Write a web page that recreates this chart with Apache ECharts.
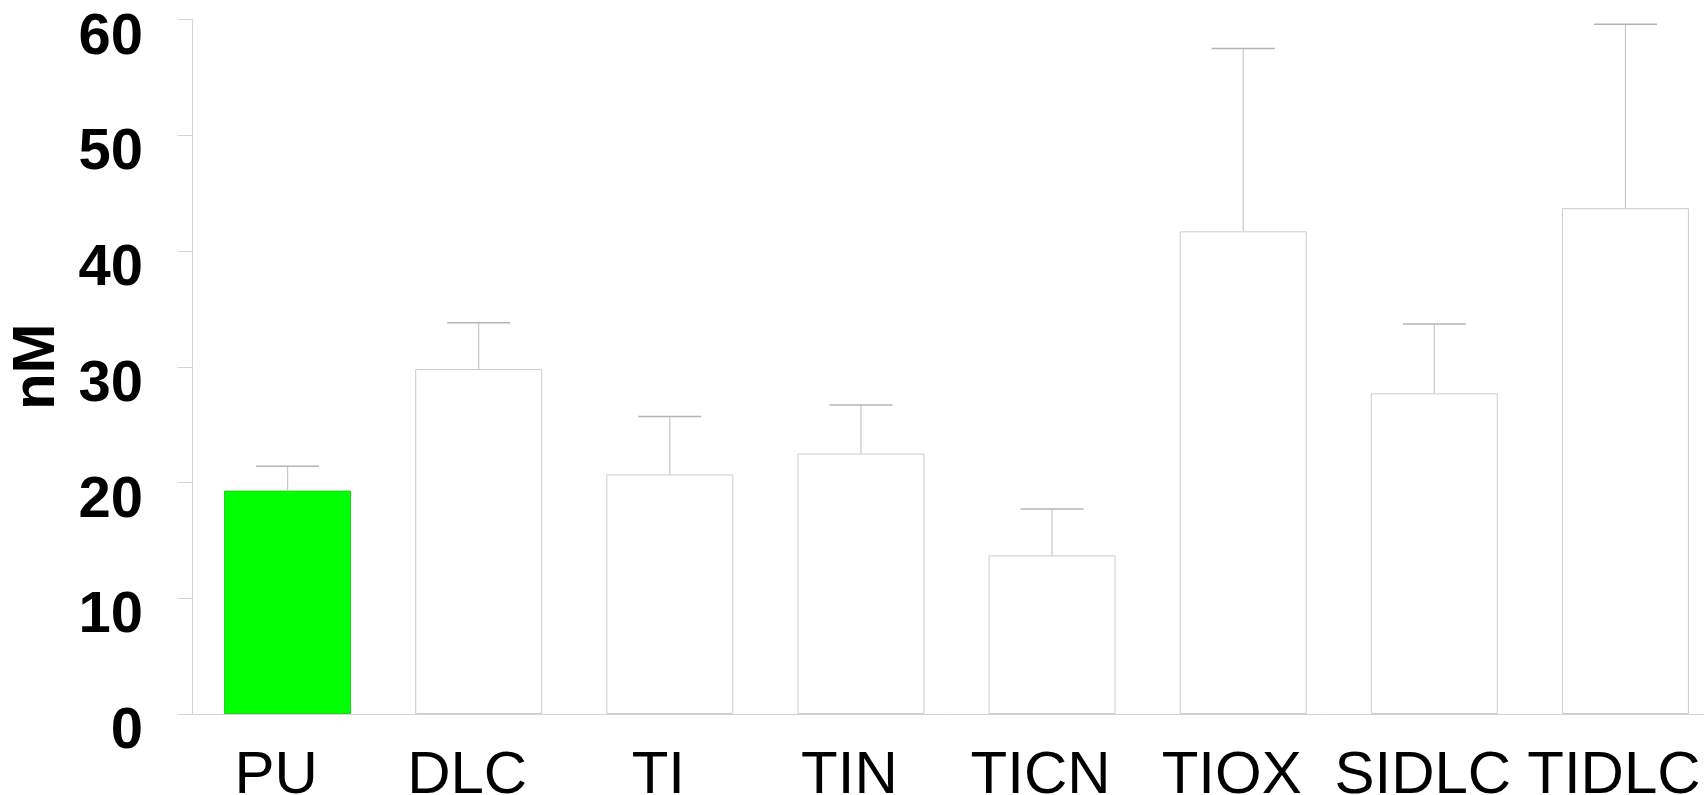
<!DOCTYPE html>
<html>
<head>
<meta charset="utf-8">
<script src="https://cdn.jsdelivr.net/npm/echarts@6/dist/echarts.min.js"></script>
<style>html,body{margin:0;padding:0;background:#fff;}#c{width:1704px;height:795px;}</style>
</head>
<body>
<div id="c"></div>
<script>
const categories = ['PU', 'DLC', 'TI', 'TIN', 'TICN', 'TIOX', 'SIDLC', 'TIDLC'];
const means = [19.3, 29.8, 20.7, 22.5, 13.7, 41.7, 27.7, 43.7];
const upper = [21.4, 33.8, 25.7, 26.7, 17.7, 57.5, 33.7, 59.6];
const barColors = ['#00ff00', '#ffffff', '#ffffff', '#ffffff', '#ffffff', '#ffffff', '#ffffff', '#ffffff'];
const yAxisName = 'nM';

const chart = echarts.init(document.getElementById('c'));
const FONT = 'Liberation Sans, Arial, sans-serif';
const NARROW = 'Liberation Sans Narrow, Arial Narrow, sans-serif';
const axisGray = '#d4d4d4';

chart.setOption({
  animation: false,
  backgroundColor: '#ffffff',
  grid: { left: 192, top: 19.5, width: 1529, height: 694.5, containLabel: false, outerBoundsMode: 'none' },
  xAxis: {
    type: 'category',
    data: categories,
    boundaryGap: true,
    axisLine: { lineStyle: { color: axisGray, width: 1 } },
    axisTick: { alignWithLabel: true, length: 15, lineStyle: { color: axisGray } },
    axisLabel: {
      interval: 0, margin: 32,
      formatter: function (v) { return '{a|' + v + '}'; },
      rich: { a: { color: '#000', fontFamily: NARROW, fontSize: 60, padding: [0, 23, 0, 0] } }
    }
  },
  yAxis: {
    type: 'value',
    min: 0, max: 60, interval: 10,
    name: yAxisName,
    nameLocation: 'middle',
    nameGap: 113,
    nameRotate: 90,
    nameTextStyle: { color: '#000', fontFamily: FONT, fontSize: 60, fontWeight: 'bold' },
    axisLine: { show: true, lineStyle: { color: axisGray, width: 1 } },
    axisTick: { show: true, length: 14, lineStyle: { color: axisGray } },
    splitLine: { show: false },
    axisLabel: { color: '#000', fontFamily: FONT, fontSize: 58, fontWeight: 'bold', margin: 49, verticalAlign: 'top', lineHeight: 36 }
  },
  series: [
    {
      type: 'bar',
      data: means.map((v, i) => ({
        value: v,
        itemStyle: { color: barColors[i], borderColor: i === 0 ? '#22cc22' : '#cccccc', borderWidth: 1 }
      })),
      barWidth: 127,
      z: 2
    },
    {
      type: 'custom',
      data: means.map((v, i) => [i, v, upper[i]]),
      z: 3,
      renderItem: function (params, api) {
        const x = api.value(0);
        const p0 = api.coord([x, api.value(1)]);
        const p1 = api.coord([x, api.value(2)]);
        const half = 31.5;
        return {
          type: 'group',
          children: [
            { type: 'line', shape: { x1: p0[0], y1: p0[1], x2: p1[0], y2: p1[1] }, style: { stroke: '#c8c8c8', lineWidth: 1.2 } },
            { type: 'line', shape: { x1: p1[0] - half, y1: p1[1], x2: p1[0] + half, y2: p1[1] }, style: { stroke: '#b4b4b4', lineWidth: 1.5 } }
          ]
        };
      }
    }
  ]
});
</script>
</body>
</html>
